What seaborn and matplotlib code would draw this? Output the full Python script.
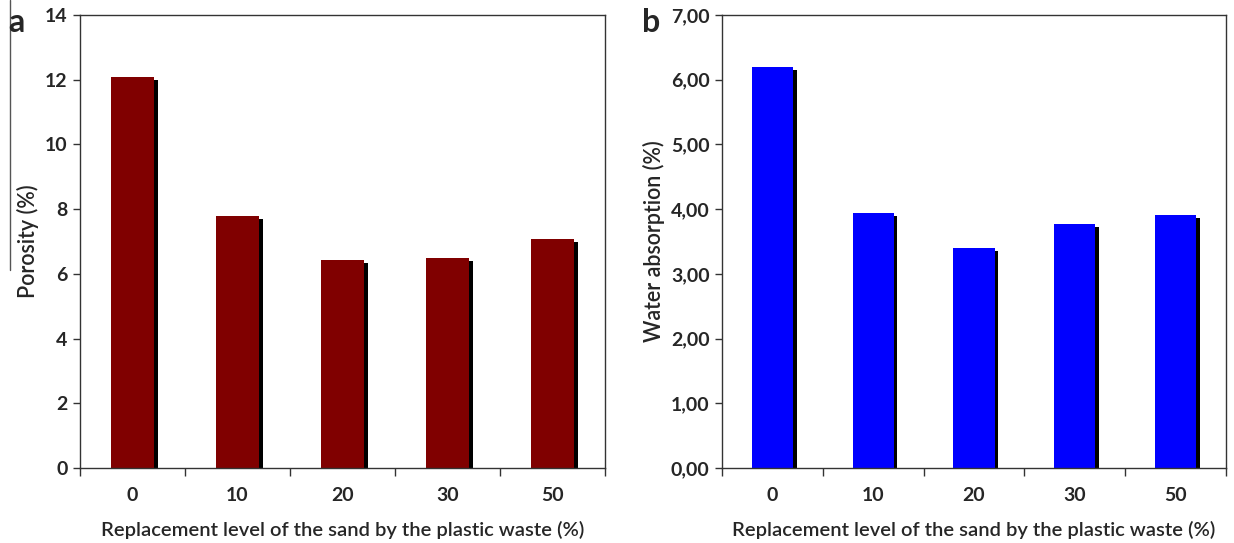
import matplotlib
matplotlib.use("Agg")
import matplotlib.pyplot as plt
import matplotlib.patheffects as pe
from matplotlib.ticker import FuncFormatter, FixedLocator
from matplotlib.lines import Line2D
import seaborn as sns
import pandas as pd

categories = ["0", "10", "20", "30", "50"]
porosity = [12.08, 7.79, 6.43, 6.49, 7.08]
water_absorption = [6.20, 3.94, 3.40, 3.77, 3.91]
xlabel = "Replacement level of the sand by the plastic waste (%)"

sns.set_style("ticks")
plt.rcParams['font.family'] = ['Lato', 'DejaVu Sans']

fig = plt.figure(figsize=(12.34, 5.43), dpi=100)
W, H = 1234, 543
axA = fig.add_axes([80 / W, 1 - 468 / H, (605 - 80) / W, (468 - 15) / H])
axB = fig.add_axes([722 / W, 1 - 468 / H, (1226 - 722) / W, (468 - 15) / H])

shadow = [pe.SimplePatchShadow(offset=(2.6, -2.2), shadow_rgbFace="black", alpha=1.0), pe.Normal()]


def draw(ax, vals, color, ylim, yticks, ylabel, fmt):
    df = pd.DataFrame({"cat": categories, "val": vals})
    sns.barplot(data=df, x="cat", y="val", color=color, width=0.41,
                saturation=1, ax=ax, edgecolor="none")
    for p in ax.patches:
        p.set_path_effects(shadow)
    ax.set_ylim(*ylim)
    ax.set_xlim(-0.5, len(categories) - 0.5)
    ax.set_yticks(yticks)
    ax.yaxis.set_major_formatter(FuncFormatter(fmt))
    ax.xaxis.set_minor_locator(FixedLocator([i - 0.5 for i in range(len(categories) + 1)]))
    ax.tick_params(axis="x", which="major", length=0, pad=14, labelsize=14)
    ax.tick_params(axis="x", which="minor", length=6, width=1, direction="out", color="#333333")
    ax.tick_params(axis="y", length=5, width=1, direction="out", labelsize=14, pad=4, color="#333333")
    for lab in ax.get_xticklabels() + ax.get_yticklabels():
        lab.set_fontweight("bold")
    for s in ax.spines.values():
        s.set_visible(True)
        s.set_color("#333333")
        s.set_linewidth(1.0)
    ax.set_xlabel(xlabel, fontsize=14.5, fontweight="semibold", labelpad=12)
    ax.set_ylabel(ylabel, fontsize=15.5, fontweight="semibold", labelpad=4)


draw(axA, porosity, "#800000", (0, 14), range(0, 15, 2), "Porosity (%)",
     lambda v, p: f"{v:.0f}")
draw(axB, water_absorption, "#0000FF", (0, 7), range(0, 8), "Water absorption (%)",
     lambda v, p: f"{v:.2f}".replace(".", ","))

fig.text(8 / W, 1 - 22 / H, "a", fontsize=23, fontweight="bold", va="center", ha="left")
fig.text(642 / W, 1 - 22 / H, "b", fontsize=23, fontweight="bold", va="center", ha="left")
fig.add_artist(Line2D([10 / W, 10 / W], [1.0, 1 - 270 / H], color="#555555", lw=1))

fig.savefig("out.png", dpi=100)
